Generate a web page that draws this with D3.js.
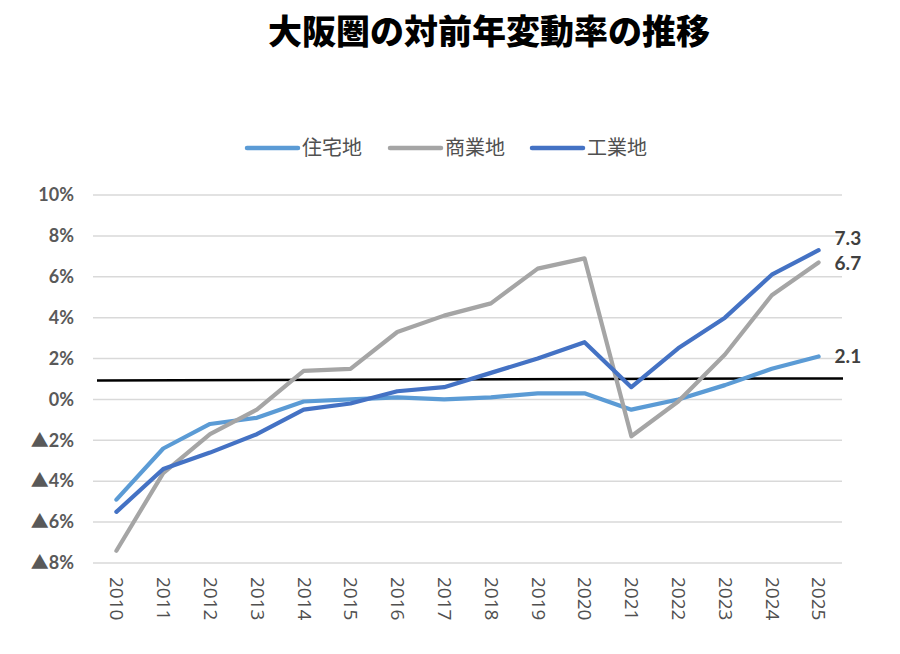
<!DOCTYPE html>
<html><head><meta charset="utf-8">
<script src="https://cdn.jsdelivr.net/npm/d3@7"></script>
<style>body{margin:0;background:#fff;} svg{display:block;}</style>
</head><body>
<script>
const years = ["2010","2011","2012","2013","2014","2015","2016","2017","2018","2019","2020","2021","2022","2023","2024","2025"];
const residential = [-4.9,-2.4,-1.2,-0.9,-0.1,0.0,0.1,0.0,0.1,0.3,0.3,-0.5,0.0,0.7,1.5,2.1];
const commercial  = [-7.4,-3.6,-1.7,-0.5,1.4,1.5,3.3,4.1,4.7,6.4,6.9,-1.8,-0.1,2.2,5.1,6.7];
const industrial  = [-5.5,-3.4,-2.6,-1.7,-0.5,-0.2,0.4,0.6,1.3,2.0,2.8,0.6,2.5,4.0,6.1,7.3];
const seriesNames = ["住宅地","商業地","工業地"];
const yTicks = [10,8,6,4,2,0,-2,-4,-6,-8];
const refLine = [0.93, 1.03];
const title = "大阪圏の対前年変動率の推移";

const colors = ["#5B9BD5","#A5A5A5","#4472C4"];
const labelDy = [0, 1, -12];

const W = 900, H = 654;
const svg = d3.select("body").append("svg").attr("width", W).attr("height", H);

const x = d3.scalePoint().domain(years).range([93, 842]).padding(0.5);
const y = d3.scaleLinear().domain([-8, 10]).range([563, 195]);

// title
svg.append("text").attr("x", 489).attr("y", 44).attr("text-anchor","middle")
  .style("font-family","'Noto Sans CJK JP'").style("font-weight","900").style("font-size","34px")
  .attr("fill","#000").text(title);

// gridlines
svg.append("g").selectAll("line").data(yTicks).join("line")
  .attr("x1", 93).attr("x2", 842)
  .attr("y1", d => y(d)).attr("y2", d => y(d))
  .attr("stroke", "#d9d9d9").attr("stroke-width", 1.5);

// y axis labels
const yAxis = d3.axisLeft(y).tickValues(yTicks).tickSize(0).tickPadding(0)
  .tickFormat(d => (d < 0 ? "▲" + Math.abs(d) : d) + "%");
const gy = svg.append("g").attr("transform","translate(74,0)").call(yAxis);
gy.select(".domain").remove();
gy.selectAll("text").style("font-family","Lato,'Noto Sans CJK JP'").style("font-weight","bold")
  .style("font-size","18px").attr("fill","#595959");

// x axis labels (rotated)
const xAxis = d3.axisBottom(x).tickSize(0).tickPadding(0);
const gx = svg.append("g").attr("transform","translate(0,563)").call(xAxis);
gx.select(".domain").remove();
gx.selectAll("text")
  .attr("transform", "rotate(90)")
  .attr("x", 14).attr("y", 0).attr("dy", "0.35em")
  .attr("text-anchor","start")
  .style("font-family","'Open Sans'").style("font-size","19px").attr("fill","#505050");

// reference line
svg.append("line")
  .attr("x1", 97).attr("x2", 843)
  .attr("y1", y(refLine[0])).attr("y2", y(refLine[1]))
  .attr("stroke","#000").attr("stroke-width", 2.5);

// series lines
const allSeries = [residential, commercial, industrial];
const line = d3.line().x((d,i) => x(years[i])).y(d => y(d));
allSeries.forEach((s, k) => {
  svg.append("path").datum(s).attr("d", line)
    .attr("fill","none").attr("stroke", colors[k]).attr("stroke-width", 4.2)
    .attr("stroke-linejoin","round").attr("stroke-linecap","round");
});

// end labels
allSeries.forEach((s, k) => {
  const v = s[s.length-1];
  svg.append("text").attr("x", x(years[years.length-1]) + 16).attr("y", y(v) + labelDy[k])
    .attr("dy","0.35em")
    .style("font-family","Lato").style("font-weight","bold").style("font-size","19px")
    .attr("fill","#404040").text(v.toFixed(1));
});

// legend
const legX = [247, 390, 532];
seriesNames.forEach((n, k) => {
  const g = svg.append("g").attr("transform", `translate(${legX[k]},148)`);
  g.append("line").attr("x1", 0).attr("x2", 51).attr("y1", 0).attr("y2", 0)
    .attr("stroke", colors[k]).attr("stroke-width", 4.5).attr("stroke-linecap","round");
  g.append("text").attr("x", 55).attr("y", 0).attr("dy","0.35em")
    .style("font-family","'Noto Sans CJK JP'").style("font-size","20px")
    .attr("fill","#505050").text(n);
});
</script>
</body></html>
